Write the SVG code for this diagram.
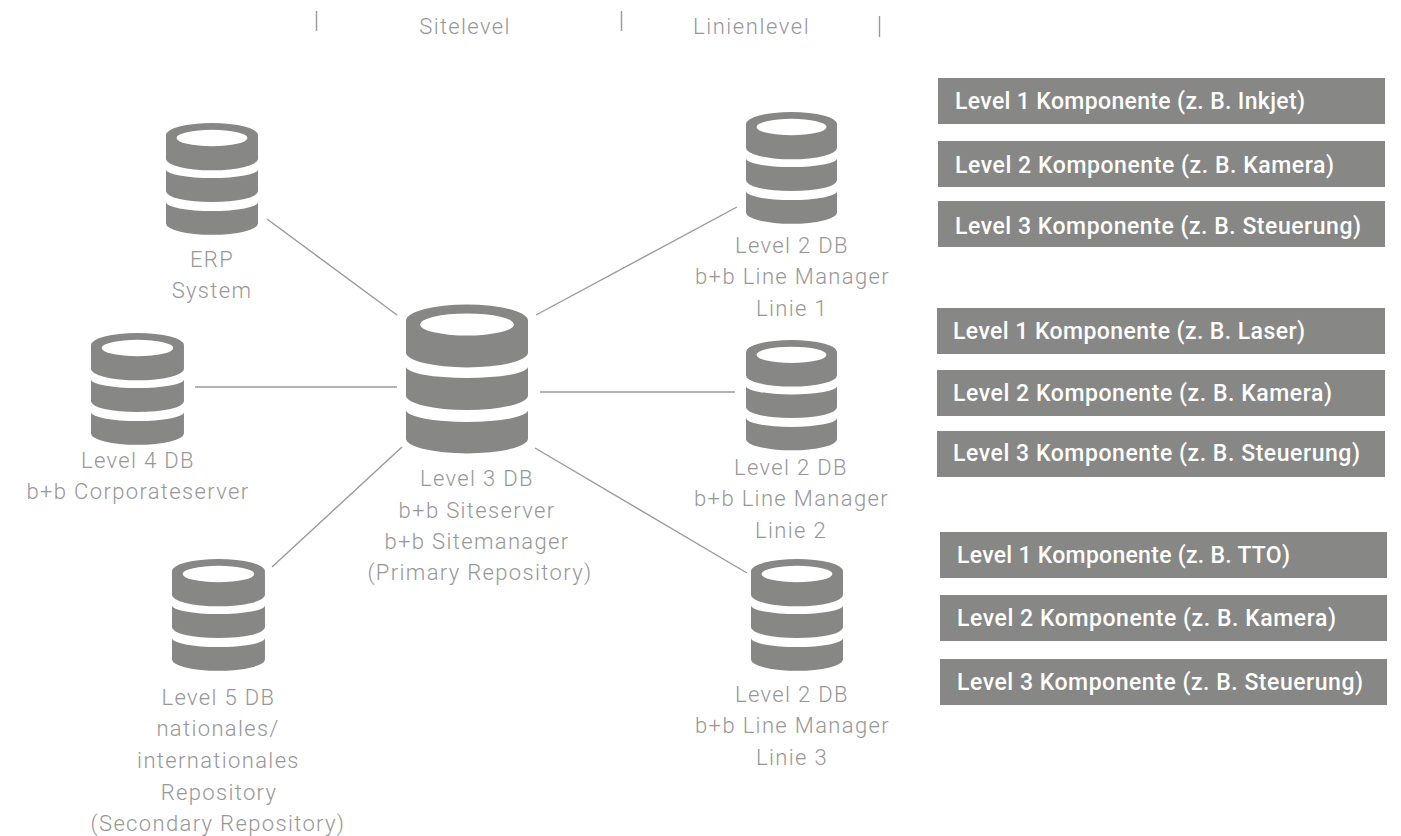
<svg xmlns="http://www.w3.org/2000/svg" width="1401" height="836" viewBox="0 0 1401 836">
<style>
.lbl{font-family:Roboto,"Liberation Sans",sans-serif;font-weight:300;font-size:22px;letter-spacing:1.35px;fill:#979797;text-anchor:middle}
.box{fill:#878786}
.bt{font-family:Roboto,"Liberation Sans",sans-serif;font-weight:500;font-size:23px;fill:#fff}
.c{stroke:#9a9a99;stroke-width:1.4;fill:none}
.db{fill:#878786}
</style>
<defs>
<g id="db">
<path class="db" fill-rule="evenodd" d="M0 16A61 16 0 0 1 122 16V48A61 15 0 0 1 0 48ZM14 20A47 11 0 0 0 108 20A47 11 0 0 0 14 20Z"/>
<path class="db" d="M0 62A61 11.500 0 0 0 122 62V91A61 14.500 0 0 1 0 91Z"/>
<path class="db" d="M0 105.500A61 12 0 0 0 122 105.500V134A61 15 0 0 1 0 134Z"/>
</g>
</defs>
<g id="header">
<path class="c" d="M316.500 11V31M621.500 11V31M879.500 16V37"/>
<text class="lbl" x="465" y="34">Sitelevel</text>
<text class="lbl" x="751.500" y="34" textLength="117">Linienlevel</text>
</g>
<g id="connectors">
<path class="c" d="M267 219L397 315M195 387H397M272 567L402 447M536 315L737 207M540 392H735M535 448L747 573"/>
</g>
<g id="erp"><use href="#db" transform="translate(166 123) scale(.754 .75)"/>
<text class="lbl" x="212" y="267">ERP</text><text class="lbl" x="212" y="298">System</text></g>
<g id="level4"><use href="#db" transform="translate(91 333) scale(.762 .75)"/>
<text class="lbl" x="138" y="468">Level 4 DB</text><text class="lbl" x="138" y="499">b+b Corporateserver</text></g>
<g id="level5"><use href="#db" transform="translate(172 559) scale(.762 .75)"/>
<text class="lbl" x="218.500" y="705">Level 5 DB</text><text class="lbl" x="218" y="736">nationales/</text><text class="lbl" x="218.500" y="768">internationales</text><text class="lbl" x="219" y="800">Repository</text><text class="lbl" x="218" y="831">(Secondary Repository)</text></g>
<g id="level3"><use href="#db" transform="translate(406 304.500)"/>
<text class="lbl" x="477" y="486">Level 3 DB</text><text class="lbl" x="477" y="518">b+b Siteserver</text><text class="lbl" x="477" y="549">b+b Sitemanager</text><text class="lbl" x="480" y="580">(Primary Repository)</text></g>
<g id="line1"><use href="#db" transform="translate(746 112) scale(.746 .75)"/>
<text class="lbl" x="792" y="253">Level 2 DB</text><text class="lbl" x="792.500" y="284">b+b Line Manager</text><text class="lbl" x="792" y="316">Linie 1</text></g>
<g id="line2"><use href="#db" transform="translate(746 340) scale(.746 .74)"/>
<text class="lbl" x="791" y="475">Level 2 DB</text><text class="lbl" x="791.500" y="506">b+b Line Manager</text><text class="lbl" x="791" y="538">Linie 2</text></g>
<g id="line3"><use href="#db" transform="translate(751 559) scale(.754 .75)"/>
<text class="lbl" x="792" y="702">Level 2 DB</text><text class="lbl" x="792.500" y="733">b+b Line Manager</text><text class="lbl" x="792" y="765">Linie 3</text></g>
<g id="comp-a1"><rect class="box" x="938" y="78" width="447" height="46"/><text class="bt" x="955" y="109" textLength="350">Level 1 Komponente (z. B. Inkjet)</text></g>
<g id="comp-a2"><rect class="box" x="938" y="141" width="447" height="46"/><text class="bt" x="955" y="173" textLength="379">Level 2 Komponente (z. B. Kamera)</text></g>
<g id="comp-a3"><rect class="box" x="938" y="201" width="447" height="46"/><text class="bt" x="955" y="234" textLength="406">Level 3 Komponente (z. B. Steuerung)</text></g>
<g id="comp-b1"><rect class="box" x="937" y="308" width="448" height="46"/><text class="bt" x="953" y="339" textLength="352">Level 1 Komponente (z. B. Laser)</text></g>
<g id="comp-b2"><rect class="box" x="937" y="370" width="448" height="46"/><text class="bt" x="953" y="401" textLength="379">Level 2 Komponente (z. B. Kamera)</text></g>
<g id="comp-b3"><rect class="box" x="937" y="431" width="448" height="46"/><text class="bt" x="953" y="461" textLength="407">Level 3 Komponente (z. B. Steuerung)</text></g>
<g id="comp-c1"><rect class="box" x="940" y="532" width="447" height="46"/><text class="bt" x="957" y="563" textLength="333">Level 1 Komponente (z. B. TTO)</text></g>
<g id="comp-c2"><rect class="box" x="940" y="595" width="447" height="46"/><text class="bt" x="957" y="626" textLength="379">Level 2 Komponente (z. B. Kamera)</text></g>
<g id="comp-c3"><rect class="box" x="940" y="659" width="447" height="46"/><text class="bt" x="957" y="690" textLength="406">Level 3 Komponente (z. B. Steuerung)</text></g>
</svg>
